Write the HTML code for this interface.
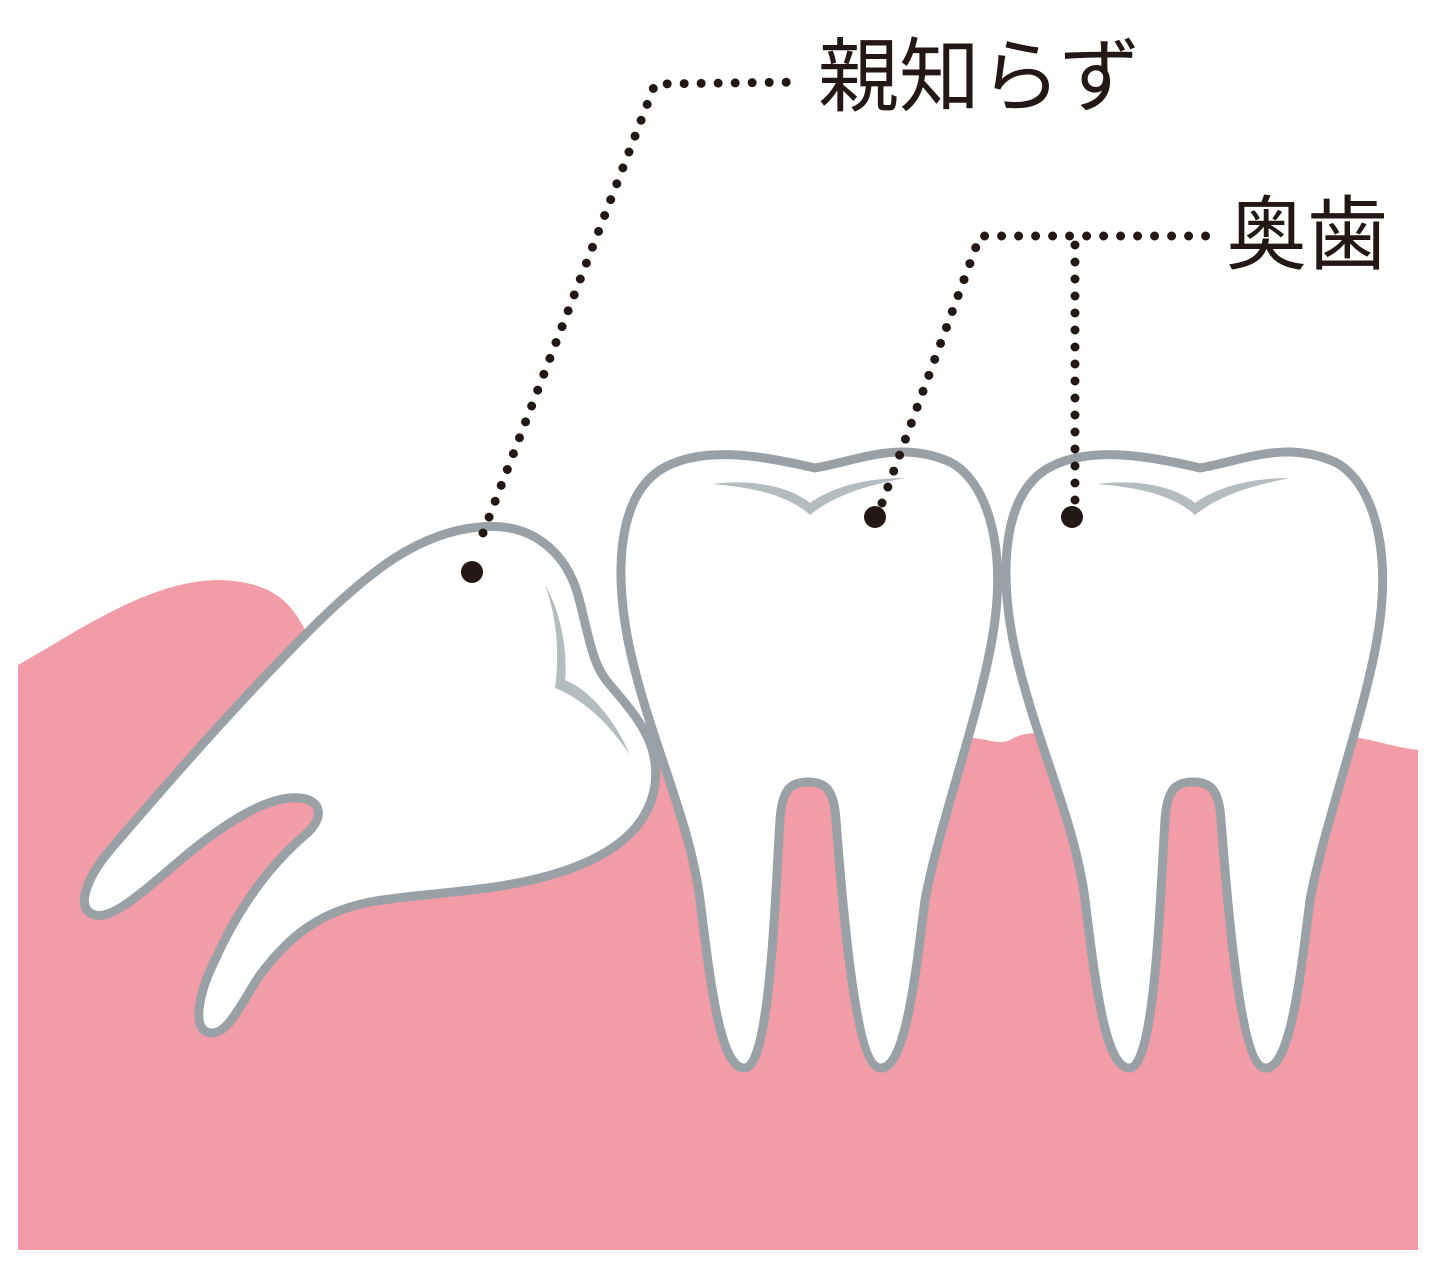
<!DOCTYPE html>
<html><head><meta charset="utf-8"><style>
html,body{margin:0;padding:0;background:#fff;}
svg{display:block;}
</style></head><body>
<svg width="1440" height="1271" viewBox="0 0 1440 1271" xmlns="http://www.w3.org/2000/svg">
<path d="M18 665 C 80 630, 150 580, 220 580 C 270 582, 290 600, 305 630 L 640 760 L 975 738 C 990 740, 1000 745, 1010 740 C 1030 728, 1045 735, 1060 738 L 1360 738 C 1380 742, 1400 748, 1418 750 L 1418 1250 L 18 1250 Z" fill="#f19ca6"/>
<g fill="#fff" stroke="#99a1a6" stroke-width="9" stroke-linejoin="round">
<path d="M480 527 C 530 522, 565 550, 578 595 C 590 640, 592 665, 610 685 C 640 720, 660 745, 655 785 C 648 830, 610 860, 540 878 C 480 893, 420 893, 370 902 C 320 912, 290 935, 260 975 C 240 1005, 228 1035, 210 1033 C 190 1030, 200 990, 215 960 C 240 905, 270 865, 305 835 C 325 818, 322 800, 300 798 C 270 795, 230 820, 190 852 C 150 885, 115 920, 95 915 C 75 910, 85 880, 110 850 C 170 780, 240 700, 310 630 C 370 570, 420 532, 480 527 Z"/>
<path d="M815 468 C 760 455, 700 445, 660 470 C 615 500, 615 580, 630 650 C 650 740, 690 820, 700 900 C 710 980, 720 1070, 745 1068 C 770 1066, 775 900, 780 820 C 782 790, 790 782, 808 782 C 826 782, 834 790, 836 820 C 842 900, 855 1066, 880 1068 C 905 1070, 915 980, 925 900 C 940 820, 985 700, 995 620 C 1005 540, 985 480, 950 462 C 900 440, 860 460, 815 468 Z"/>
<path transform="translate(385,0)" d="M815 468 C 760 455, 700 445, 660 470 C 615 500, 615 580, 630 650 C 650 740, 690 820, 700 900 C 710 980, 720 1070, 745 1068 C 770 1066, 775 900, 780 820 C 782 790, 790 782, 808 782 C 826 782, 834 790, 836 820 C 842 900, 855 1066, 880 1068 C 905 1070, 915 980, 925 900 C 940 820, 985 700, 995 620 C 1005 540, 985 480, 950 462 C 900 440, 860 460, 815 468 Z"/>
</g>
<g fill="#b5bcc0">
<path d="M712 484 C 760 478, 795 490, 810 503 C 835 485, 870 478, 905 478 C 865 486, 835 495, 810 515 C 790 497, 760 488, 712 484 Z"/>
<path transform="translate(385,0)" d="M712 484 C 760 478, 795 490, 810 503 C 835 485, 870 478, 905 478 C 865 486, 835 495, 810 515 C 790 497, 760 488, 712 484 Z"/>
<path d="M545 585 C 560 610, 568 650, 565 680 C 590 690, 615 720, 630 755 C 610 725, 585 700, 555 688 C 560 650, 556 615, 545 585 Z"/>
</g>
<g fill="none" stroke="#231815" stroke-width="9" stroke-linecap="round" stroke-dasharray="0 17">
<path d="M483 533 L 655 84 L 800 82"/>
<path d="M882 503 L 980 236 L 1210 236"/>
<path d="M1075 500 L 1075 240"/>
</g>
<g fill="#231815">
<circle cx="472" cy="572" r="11"/>
<circle cx="875" cy="517" r="11"/>
<circle cx="1072" cy="517" r="11"/>
</g>
<text x="818" y="105" font-family="'Liberation Sans','Noto Sans CJK JP',sans-serif" font-size="81" fill="#231815">親知らず</text>
<text x="1226" y="263" font-family="'Liberation Sans','Noto Sans CJK JP',sans-serif" font-size="81" fill="#231815">奥歯</text>
</svg>
</body></html>
